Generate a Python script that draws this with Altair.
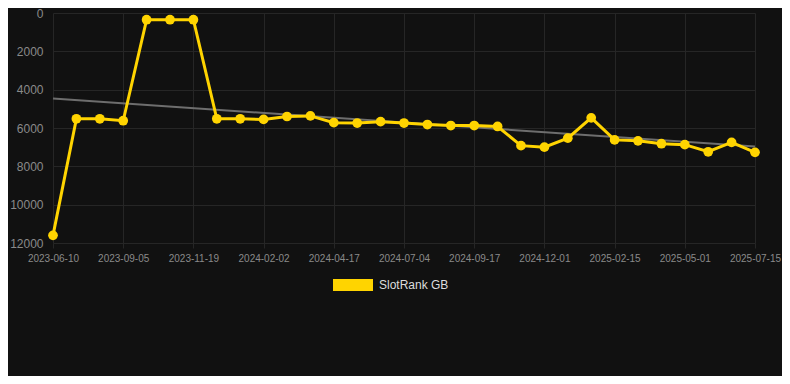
import altair as alt
import pandas as pd

dates = [
    "2023-06-10", "2023-07-09", "2023-08-07", "2023-09-05", "2023-09-30", "2023-10-25",
    "2023-11-19", "2023-12-14", "2024-01-08", "2024-02-02", "2024-02-27", "2024-03-23",
    "2024-04-17", "2024-05-13", "2024-06-08", "2024-07-04", "2024-07-29", "2024-08-23",
    "2024-09-17", "2024-10-12", "2024-11-06", "2024-12-01", "2024-12-26", "2025-01-21",
    "2025-02-15", "2025-03-12", "2025-04-06", "2025-05-01", "2025-05-26", "2025-06-20",
    "2025-07-15",
]
ranks = [
    11600, 5520, 5520, 5620, 350, 350, 350, 5520, 5520, 5550, 5400, 5370,
    5720, 5740, 5670, 5740, 5820, 5870, 5870, 5920, 6920, 7000, 6530, 5470,
    6620, 6670, 6820, 6870, 7240, 6750, 7270,
]
series_name = "SlotRank GB"
tick_index = list(range(0, 31, 3))
y_ticks = [0, 2000, 4000, 6000, 8000, 10000, 12000]

df = pd.DataFrame({
    "idx": list(range(len(dates))),
    "date": dates,
    "rank": ranks,
    "series": [series_name] * len(dates),
})

label_array = "[" + ",".join("'" + d + "'" for d in dates) + "]"

YELLOW = "#FFD400"
GRID = "#262626"
FONT = "Liberation Sans"

x_enc = alt.X(
    "idx:Q",
    scale=alt.Scale(domain=[0, len(dates) - 1], nice=False, zero=False),
    axis=alt.Axis(
        values=tick_index,
        labelExpr=label_array + "[datum.value]",
        title=None,
        domain=False,
        grid=True,
        gridColor=GRID,
        tickColor=GRID,
        tickSize=5,
        labelColor="#8a8a8a",
        labelFontSize=10,
        labelFont=FONT,
        labelPadding=5,
        labelOverlap=False,
        labelFlush=False,
        labelBound=False,
    ),
)
y_enc = alt.Y(
    "rank:Q",
    scale=alt.Scale(domain=[0, 12000], reverse=True, nice=False, zero=False),
    axis=alt.Axis(
        values=y_ticks,
        format="d",
        title=None,
        domain=False,
        grid=True,
        gridColor=GRID,
        ticks=False,
        labelColor="#8a8a8a",
        labelFontSize=12,
        labelFont=FONT,
        labelPadding=10,
        labelOverlap=False,
        labelFlush=False,
        labelBound=False,
    ),
)

base = alt.Chart(df)

trend = base.transform_regression("idx", "rank").mark_line(
    color="#6e6e6e", strokeWidth=2
).encode(x=x_enc, y=y_enc)

line = base.mark_line(color=YELLOW, strokeWidth=3).encode(x=x_enc, y=y_enc)

points = base.mark_circle(size=95, opacity=1).encode(
    x=x_enc,
    y=y_enc,
    color=alt.Color(
        "series:N",
        scale=alt.Scale(domain=[series_name], range=[YELLOW]),
        legend=alt.Legend(
            title=None,
            orient="none",
            legendX=280,
            legendY=252,
            symbolType="M-1,-0.3H1V0.3H-1Z",
            symbolSize=1600,
            symbolStrokeWidth=0,
            symbolOpacity=1,
            labelColor="#dddddd",
            labelFontSize=12,
            labelFont=FONT,
            labelOffset=6,
        ),
    ),
)

chart = alt.layer(trend, line, points).properties(
    width=702,
    height=230,
    background="#111111",
    autosize=alt.AutoSizeParams(type="none"),
    padding={"left": 45, "top": 5, "right": 27, "bottom": 133},
).configure_view(stroke=None)

chart.save("out.html", embed_options={"renderer": "svg", "actions": False})
